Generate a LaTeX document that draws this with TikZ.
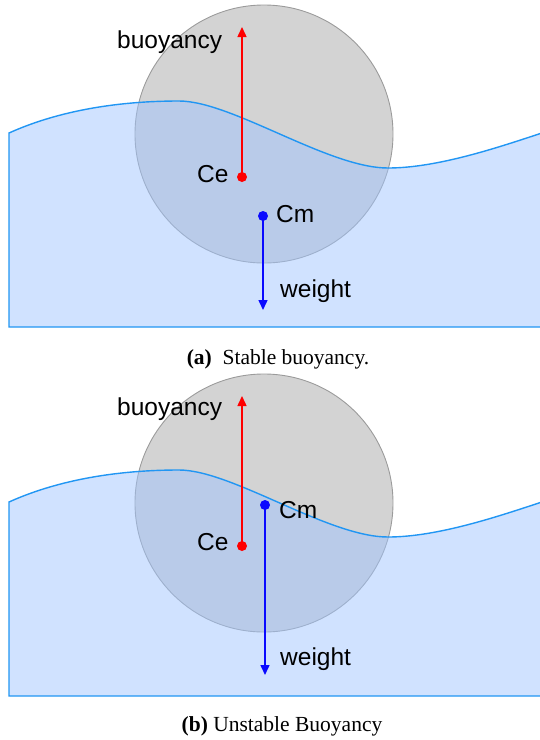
\documentclass[tikz,border=0pt]{standalone}
\usepackage{fontspec}
\setmainfont{Liberation Serif}
\setsansfont{Liberation Sans}
\usetikzlibrary{arrows.meta}
\definecolor{waterline}{RGB}{33,150,243}
\definecolor{waterfill}{RGB}{161,197,255}
\definecolor{ballfill}{RGB}{211,211,211}
\definecolor{balledge}{RGB}{155,155,155}
\definecolor{forcered}{RGB}{255,0,0}
\definecolor{forceblue}{RGB}{10,10,255}
\tikzset{
  ball/.style={fill=ballfill, draw=balledge, line width=0.9pt},
  water/.style={fill=waterfill, fill opacity=0.5, draw=waterline, line width=1.4pt},
  dotnode/.style={circle, inner sep=0pt, minimum size=10pt},
  force/.style={line width=1.5pt, -{Triangle[width=9pt,length=10pt]}},
  lbl/.style={font=\sffamily\fontsize{24.5}{28}\selectfont, inner sep=0pt, anchor=base west},
  capt/.style={font=\rmfamily\fontsize{21.5}{25}\selectfont, inner sep=0pt, anchor=base}
}
\begin{document}
\begin{tikzpicture}[x=1pt,y=-1pt]
\useasboundingbox (0,0) rectangle (539,740);
% ---------- panel (a) ----------
\begin{scope}
  \node[ball, circle, minimum size=258pt, inner sep=0pt] (ballA) at (264,134) {};
  \path[water] (9,133) .. controls (60,110) and (120,101) .. (179,101)
    .. controls (232,101) and (328,168) .. (388,168)
    .. controls (440,168) and (505,145) .. (545,132)
    -- (545,327) -- (9,327) -- cycle;
  \coordinate (topA) at (242,27);
  \coordinate (botA) at (263,310);
  \node[dotnode, fill=forcered] (ceA) at (242,177) {};
  \node[dotnode, fill=forceblue] (cmA) at (263,216) {};
  \draw[force, forcered] (ceA.center) -- (topA);
  \draw[force, forceblue] (cmA.center) -- (botA);
  \node[lbl] (buoyA) at (117,48) {buoyancy};
  \node[lbl] (ceLA) at (197,182) {Ce};
  \node[lbl] (cmLA) at (276,222) {Cm};
  \node[lbl] (wA) at (280,297) {weight};
  \node[capt] (capA) at (278,364) {\textbf{(a)}\ \ Stable buoyancy.};
\end{scope}
% ---------- panel (b) ----------
\begin{scope}[yshift=-369pt]
  \node[ball, circle, minimum size=258pt, inner sep=0pt] (ballB) at (264,134) {};
  \path[water] (9,133) .. controls (60,110) and (120,101) .. (179,101)
    .. controls (232,101) and (328,168) .. (388,168)
    .. controls (440,168) and (505,145) .. (545,132)
    -- (545,327) -- (9,327) -- cycle;
  \coordinate (topB) at (242,27);
  \coordinate (botB) at (265,306);
  \node[dotnode, fill=forcered] (ceB) at (242,177) {};
  \node[dotnode, fill=forceblue] (cmB) at (265,136) {};
  \draw[force, forcered] (ceB.center) -- (topB);
  \draw[force, forceblue] (cmB.center) -- (botB);
  \node[lbl] (buoyB) at (117,46) {buoyancy};
  \node[lbl] (ceLB) at (197,181) {Ce};
  \node[lbl] (cmLB) at (279,149) {Cm};
  \node[lbl] (wB) at (280,296) {weight};
  \node[capt] (capB) at (282,362) {\textbf{(b)} Unstable Buoyancy};
\end{scope}
\end{tikzpicture}
\end{document}
